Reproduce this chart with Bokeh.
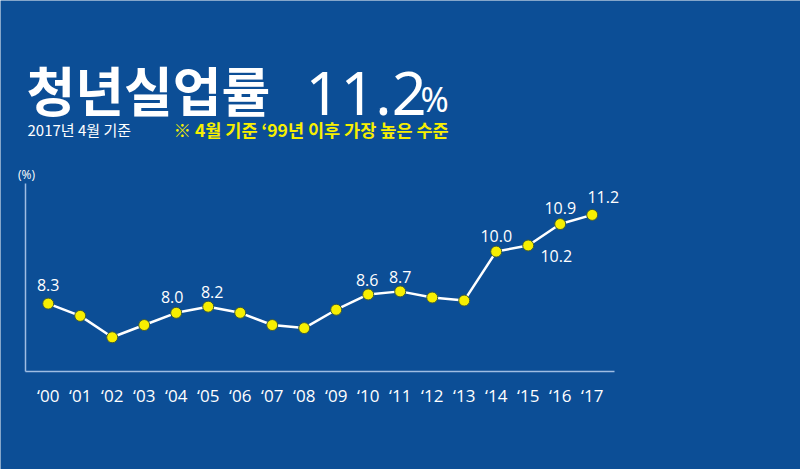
from bokeh.plotting import figure
from bokeh.models import ColumnDataSource, Range1d, FixedTicker
from bokeh.core.properties import value
from bokeh.embed import file_html
from bokeh.resources import INLINE

# ---- data ----
years = ["‘00", "‘01", "‘02", "‘03", "‘04", "‘05", "‘06", "‘07", "‘08",
         "‘09", "‘10", "‘11", "‘12", "‘13", "‘14", "‘15", "‘16", "‘17"]
rates = [8.3, 7.9, 7.2, 7.6, 8.0, 8.2, 8.0, 7.6, 7.5,
         8.1, 8.6, 8.7, 8.5, 8.4, 10.0, 10.2, 10.9, 11.2]
labelled = [0, 4, 5, 10, 11, 14, 15, 16, 17]

title_text = "청년실업률"
headline_value = "11.2"
headline_unit = "%"
subtitle_text = "2017년 4월 기준"
note_text = "※ 4월 기준 ‘99년 이후 가장 높은 수준"
unit_text = "(%)"

# ---- styling ----
BG = "#0c4e96"
AXIS = "#9fbde3"
YELLOW = "#f7ef00"
# label pixel offsets (styling), per labelled point
label_dx = [0, -4, 4, -1, 0, 0, 28, 0, 11]
label_dy = [-19, -16, -15, -14, -14, -16, 11, -16, -18]

W, H = 800, 469
# pixel geometry of the plot area (axis box)
AX_L, AX_R, AX_T, AX_B = 25, 614, 183, 371
X_STEP_PX, X_FIRST_PX = 32.0, 47.7      # year spacing
Y_PX_PER_UNIT, Y_ZERO_PX = 30.6, 557.1  # value scale


def dx(px):
    return (px - X_FIRST_PX) / X_STEP_PX


def dy(py):
    return (Y_ZERO_PX - py) / Y_PX_PER_UNIT


p = figure(width=W, height=H, output_backend="svg", toolbar_location=None,
           x_range=Range1d(dx(0), dx(W)), y_range=Range1d(dy(H), dy(0)),
           min_border=0, min_border_left=0, min_border_right=0,
           min_border_top=0, min_border_bottom=0,
           background_fill_color=BG, border_fill_color=BG,
           outline_line_color=None)
p.grid.visible = False

xs = list(range(len(years)))

# axes (fixed inside the canvas)
xa = p.xaxis[0]
xa.fixed_location = dy(AX_B)
xa.bounds = (dx(AX_L), dx(AX_R))
xa.ticker = FixedTicker(ticks=xs)
xa.major_label_overrides = {i: y for i, y in enumerate(years)}
xa.axis_line_color = AXIS
xa.axis_line_width = 1.5
xa.major_tick_line_color = None
xa.minor_tick_line_color = None
xa.major_tick_out = 0
xa.major_tick_in = 0
xa.major_label_standoff = 12
xa.major_label_text_color = "white"
xa.major_label_text_font = "Open Sans"
xa.major_label_text_font_size = "17px"

ya = p.yaxis[0]
ya.fixed_location = dx(AX_L)
ya.bounds = (dy(AX_B), dy(AX_T))
ya.ticker = FixedTicker(ticks=[])
ya.axis_line_color = AXIS
ya.axis_line_width = 1.5
ya.major_tick_line_color = None
ya.minor_tick_line_color = None
ya.major_tick_out = 0
ya.major_tick_in = 0
ya.major_label_text_font_size = "0px"

src = ColumnDataSource(dict(x=xs, y=rates))
p.line("x", "y", source=src, line_color="white", line_width=2.5)
p.scatter("x", "y", source=src, size=11, fill_color=YELLOW,
          line_color="#3d5a3a", line_width=1)

lab_src = ColumnDataSource(dict(
    x=[xs[i] for i in labelled],
    y=[rates[i] for i in labelled],
    t=["%.1f" % rates[i] for i in labelled],
    dx=label_dx, dy=label_dy))
p.text("x", "y", text="t", source=lab_src, x_offset="dx", y_offset="dy",
       text_color="white", text_font=value("Open Sans"),
       text_font_size="16px", text_align="center",
       text_baseline="alphabetic")


def lab(text, x, y, size, color="white", font="Noto Sans CJK KR",
        style="normal", align="left", baseline="alphabetic"):
    p.text(x=[dx(x)], y=[dy(y)], text=[text], text_color=color,
           text_font=value(font), text_font_size=size,
           text_font_style=style, text_align=align,
           text_baseline=baseline)


lab(title_text, 26, 88, "53px", style="bold")
lab(headline_value, 305, 93, "61px", font="Noto Sans")
lab(headline_unit, 420, 98, "34px", font="Noto Sans")
lab(subtitle_text, 27, 129, "15px")
lab(note_text, 173, 129, "17.5px", color=YELLOW, style="bold")
lab(unit_text, 26, 174, "12px", font="Open Sans", align="center",
    baseline="middle")

html = file_html(p, INLINE)
html = html.replace(
    "<body>",
    '<body style="margin:0;overflow:hidden;background-color:%s;">' % BG, 1)
open("out.html", "w").write(html)
